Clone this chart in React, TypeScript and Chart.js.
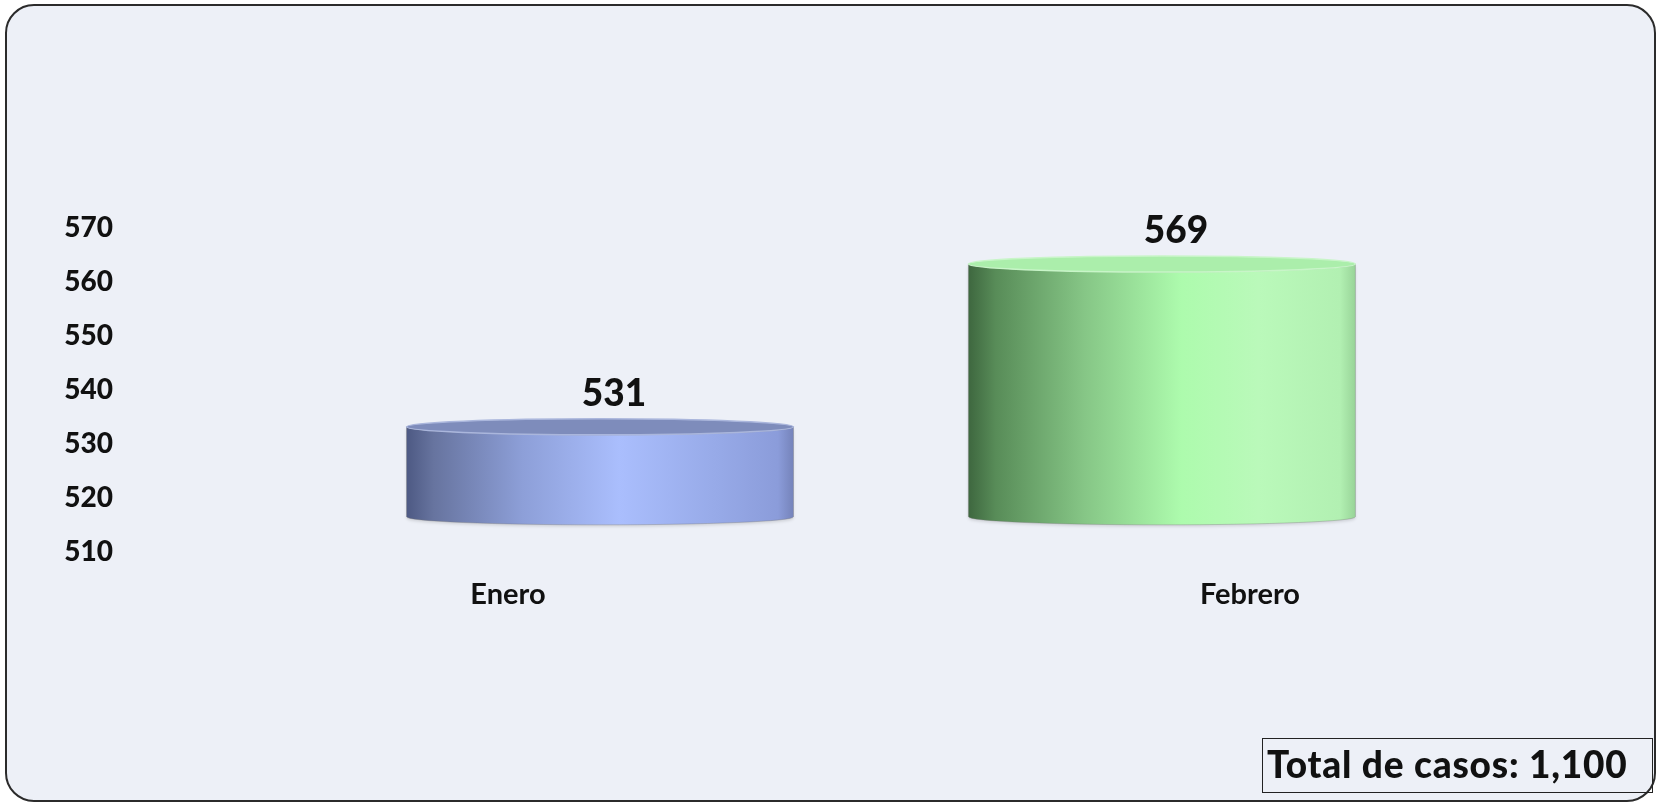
import React, { useEffect, useRef } from 'react';
import { Chart, registerables } from 'chart.js';

Chart.register(...registerables);

// ---- data ----
const months = ['Enero', 'Febrero'];
const cases = [531, 569];
const yTicks = [510, 520, 530, 540, 550, 560, 570];
const totalLabel = 'Total de casos';

// ---- styles ----
const FONT = 'Lato, "DejaVu Sans", sans-serif';
const BG = '#edf0f7';
const cylinderStyles = [
  {
    stops: [
      [0, '#4d5983'],
      [0.07, '#67749f'],
      [0.3, '#8d9fd8'],
      [0.55, '#aabefd'],
      [0.8, '#97aae8'],
      [0.96, '#8b9cda'],
      [1, '#7583ba'],
    ],
    top: '#7e8cbb',
    rim: '#aab6dc',
  },
  {
    stops: [
      [0, '#3e673f'],
      [0.07, '#588c58'],
      [0.3, '#86c686'],
      [0.55, '#adfbad'],
      [0.75, '#baf9ba'],
      [0.96, '#b2f0b2'],
      [1, '#98d498'],
    ],
    top: '#abeeab',
    rim: '#c8f5c8',
  },
];

const cylinderPlugin = {
  id: 'cylinders',
  afterDatasetsDraw(chart: any) {
    const ctx = chart.ctx as CanvasRenderingContext2D;
    const meta = chart.getDatasetMeta(0);
    meta.data.forEach((el: any, i: number) => {
      const { x, y, base, width } = el.getProps(['x', 'y', 'base', 'width'], true);
      const rx = width / 2;
      const ry = 8;
      const left = x - rx;
      const right = x + rx;
      const st = cylinderStyles[i % cylinderStyles.length];
      ctx.save();
      const g = ctx.createLinearGradient(left, 0, right, 0);
      st.stops.forEach(([o, c]) => g.addColorStop(o as number, c as string));
      ctx.beginPath();
      ctx.moveTo(left, y);
      ctx.lineTo(left, base);
      ctx.ellipse(x, base, rx, ry, 0, Math.PI, 0, true);
      ctx.lineTo(right, y);
      ctx.ellipse(x, y, rx, ry, 0, 0, Math.PI, false);
      ctx.closePath();
      ctx.shadowColor = 'rgba(0,0,0,0.12)';
      ctx.shadowBlur = 3;
      ctx.shadowOffsetY = 2;
      ctx.fillStyle = g;
      ctx.fill();
      ctx.shadowColor = 'transparent';
      ctx.strokeStyle = 'rgba(120,120,120,0.35)';
      ctx.lineWidth = 1;
      ctx.stroke();
      ctx.beginPath();
      ctx.ellipse(x, y, rx, ry, 0, 0, Math.PI * 2);
      ctx.fillStyle = st.top;
      ctx.fill();
      ctx.strokeStyle = st.rim;
      ctx.lineWidth = 1.5;
      ctx.stroke();
      ctx.restore();

      ctx.save();
      ctx.font = `900 37px ${FONT}`;
      ctx.fillStyle = '#111';
      ctx.textAlign = 'center';
      ctx.textBaseline = 'middle';
      ctx.fillText(String(cases[i]), x + 14, y - 33);
      ctx.restore();
    });
  },
};

const framePlugin = {
  id: 'frame',
  beforeDraw(chart: any) {
    const ctx = chart.ctx as CanvasRenderingContext2D;
    ctx.save();
    ctx.fillStyle = '#ffffff';
    ctx.fillRect(0, 0, chart.width, chart.height);
    ctx.beginPath();
    (ctx as any).roundRect(6, 5, chart.width - 10, chart.height - 9, 28);
    ctx.fillStyle = BG;
    ctx.fill();
    ctx.lineWidth = 2;
    ctx.strokeStyle = '#2b2b2b';
    ctx.stroke();
    ctx.restore();
  },
  afterDraw(chart: any) {
    const ctx = chart.ctx as CanvasRenderingContext2D;
    const total = cases.reduce((a, b) => a + b, 0);
    ctx.save();
    ctx.strokeStyle = '#222';
    ctx.lineWidth = 1;
    ctx.strokeRect(1262.5, 738.5, 390, 54);
    ctx.font = `900 37px ${FONT}`;
    (ctx as any).letterSpacing = '0.8px';
    ctx.fillStyle = '#111';
    ctx.textAlign = 'left';
    ctx.textBaseline = 'middle';
    ctx.fillText(`${totalLabel}: ${total.toLocaleString('en-US')}`, 1267, 766);
    ctx.restore();
  },
};

export default function App() {
  const ref = useRef<HTMLCanvasElement | null>(null);

  useEffect(() => {
    if (!ref.current) return;
    const chart = new Chart(ref.current, {
      type: 'bar',
      data: {
        labels: months,
        datasets: [
          {
            label: 'Casos',
            data: months.map((_, i) => ({ x: i, y: cases[i] })) as any,
            xAxisID: 'xb',
            yAxisID: 'yb',
            base: yTicks[0],
            barThickness: 387,
            backgroundColor: 'rgba(0,0,0,0)',
            borderWidth: 0,
          } as any,
        ],
      },
      options: {
        responsive: false,
        animation: false,
        devicePixelRatio: 1,
        layout: { padding: { left: 0, right: 38, top: 228, bottom: 153 } },
        plugins: {
          legend: { display: false },
          tooltip: { enabled: false },
          title: { display: false },
        },
        scales: {
          x: {
            type: 'category',
            labels: months,
            offset: true,
            position: 'bottom',
            grid: { display: false, drawTicks: false },
            border: { display: false },
            ticks: {
              padding: 25,
              color: '#111',
              font: { family: FONT, size: 29, weight: 'bold' },
              maxRotation: 0,
            },
            afterFit: (s: any) => {
              s.height = 100;
            },
          },
          y: {
            type: 'linear',
            position: 'left',
            min: yTicks[0],
            max: yTicks[yTicks.length - 1],
            grid: { display: false, drawTicks: false },
            border: { display: false },
            ticks: {
              padding: 24,
              color: '#111',
              font: { family: FONT, size: 28, weight: '900' },
            },
            afterBuildTicks: (s: any) => {
              s.ticks = yTicks.map((v) => ({ value: v }));
            },
            afterFit: (s: any) => {
              s.width = 137;
            },
          },
          xb: {
            type: 'linear',
            display: false,
            offset: false,
            min: -0.824,
            max: 1.817,
          },
          yb: {
            type: 'linear',
            display: false,
            min: 501.8,
            max: 577.4,
          },
        } as any,
      },
      plugins: [framePlugin, cylinderPlugin],
    });
    return () => chart.destroy();
  }, []);

  return (
    <div style={{ position: 'absolute', left: 0, top: 0, width: 1659, height: 805 }}>
      <canvas ref={ref} width={1659} height={805} style={{ display: 'block' }} />
    </div>
  );
}
